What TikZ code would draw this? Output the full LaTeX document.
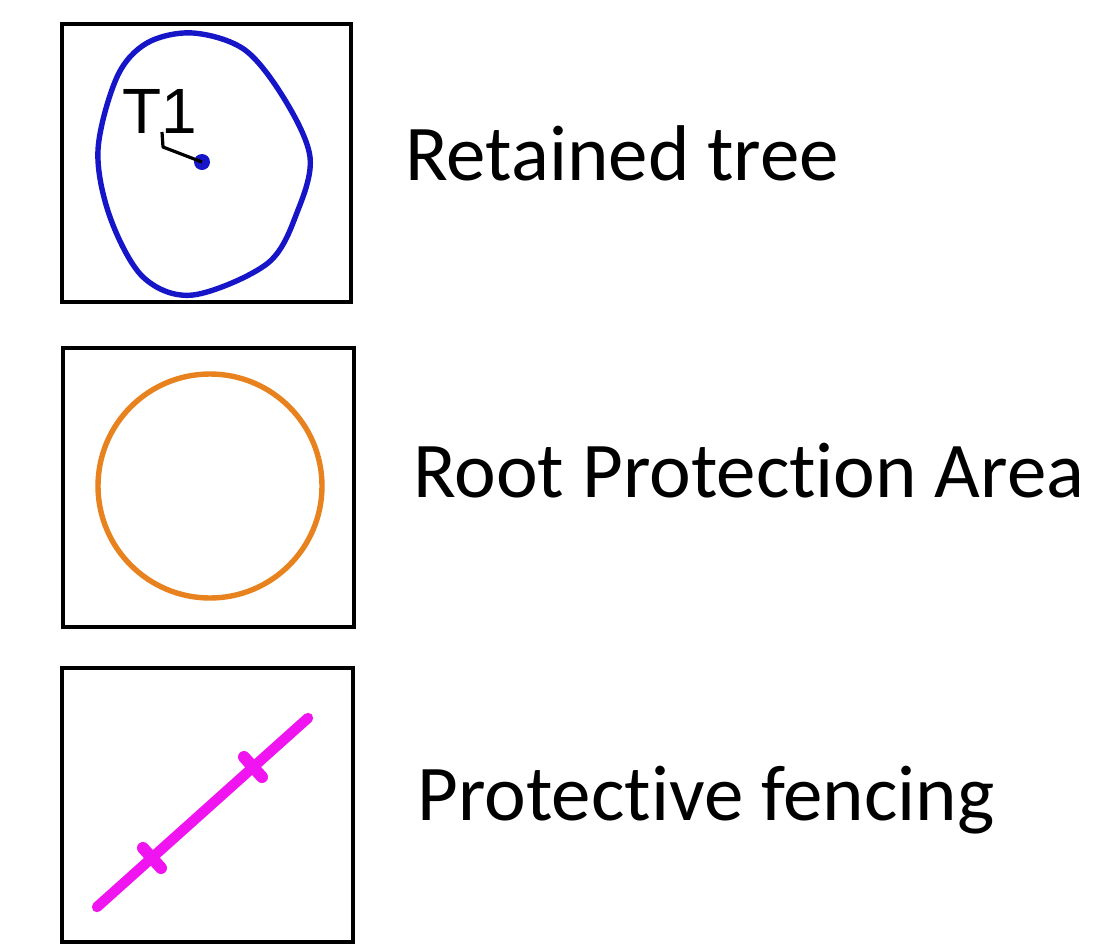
\documentclass[tikz,border=0pt]{standalone}
\usepackage{fontspec}
\setmainfont{Carlito}[Ligatures={NoCommon,NoRare,NoContextual}]
\newfontfamily\arialf{Liberation Sans}
\definecolor{treeblue}{RGB}{22,22,200}
\definecolor{rpaorange}{RGB}{232,130,30}
\definecolor{fencemag}{RGB}{240,20,240}
\tikzset{
  keybox/.style={draw=black, line width=2.2pt, rectangle, inner sep=0pt, fill=none},
  legendtext/.style={anchor=base west, inner sep=0pt, font=\fontsize{39.5}{47}\selectfont},
  fenceline/.style={draw=fencemag, line width=5.2pt, line cap=round},
  fencebar/.style={draw=fencemag, line width=6pt, line cap=round},
}
\begin{document}
\begin{tikzpicture}[x=0.5pt,y=-0.5pt]
\useasboundingbox (0,0) rectangle (1099,944);
% boxes
\node[keybox, minimum width=144.5pt, minimum height=139pt] (b1) at (206.5,163) {};
\node[keybox, minimum width=145.5pt, minimum height=139.5pt] (b2) at (208.5,487.5) {};
\node[keybox, minimum width=145.5pt, minimum height=137pt] (b3) at (207.5,805) {};
% retained tree
\draw[treeblue, line width=2.7pt] plot[smooth cycle, tension=0.55] coordinates
  {(193,33) (245,50) (285,100) (310,157) (298,210) (268,263) (193,295) (143,277) (110,217) (98,150) (117,77) (147,43)};
\node[circle, fill=treeblue, inner sep=0pt, minimum size=8pt] (dot) at (202,162) {};
\coordinate (bend) at (163,147);
\coordinate (lbl) at (162,132);
\draw[black, line width=1.6pt, line join=round] (dot.center) -- (bend) -- (lbl);
\node[anchor=base west, inner sep=0pt, font=\arialf\fontsize{32}{38}\selectfont] (t1) at (122,133) {T1};
% root protection area
\draw[rpaorange, line width=2.7pt] (210,486) circle[radius=112];
% protective fencing
\coordinate (f1) at (97,907);
\coordinate (f2) at (308,718);
\draw[fenceline] (f1) -- (f2);
\coordinate (c1a) at (143,848);
\coordinate (c1b) at (161,868);
\coordinate (c2a) at (244,757);
\coordinate (c2b) at (262,777);
\draw[fencebar] (c1a) -- (c1b);
\draw[fencebar] (c2a) -- (c2b);
% labels
\node[legendtext] (l1) at (405,180) {Retained tree};
\node[legendtext] (l2) at (413,497) {Root Protection Area};
\node[legendtext] (l3) at (417,820) {Protective fencing};
\end{tikzpicture}
\end{document}
